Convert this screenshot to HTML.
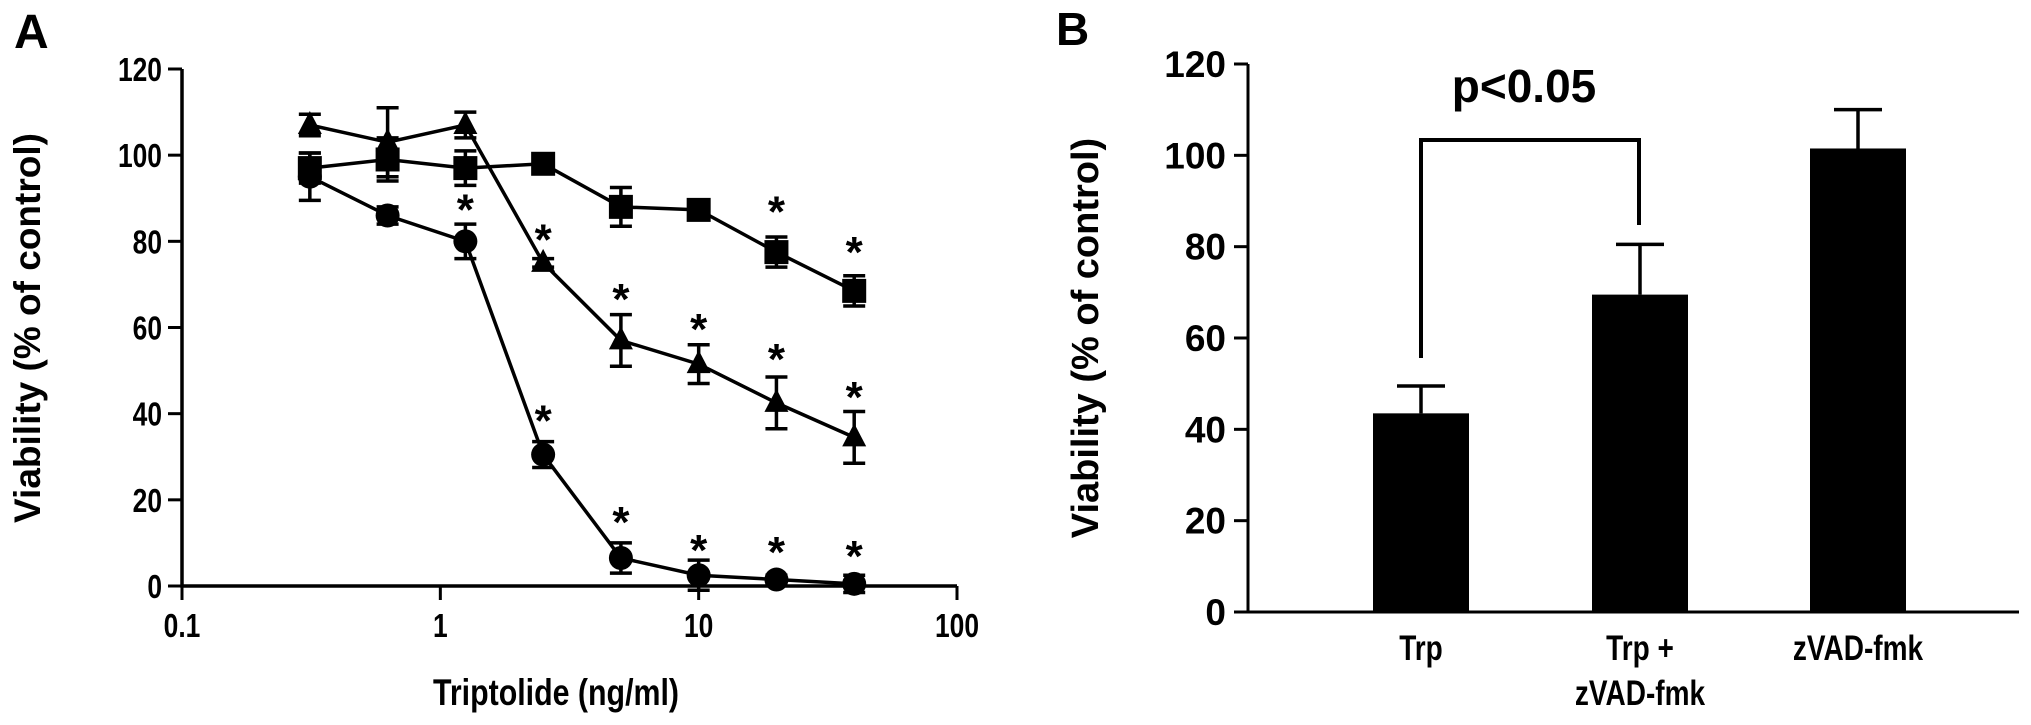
<!DOCTYPE html>
<html><head><meta charset="utf-8"><style>
html,body{margin:0;padding:0;background:#fff;}
svg{display:block;font-family:"Liberation Sans",Arial,sans-serif;font-weight:bold;}
</style></head><body>
<svg id="fig" width="2031" height="725" viewBox="0 0 2031 725" xmlns="http://www.w3.org/2000/svg"></svg>
<script>
// Panel A data
const doses = [0.3125, 0.625, 1.25, 2.5, 5, 10, 20, 40];
const squareVals = [97, 99, 97, 98, 88, 87.3, 77.5, 68.5];
const squareErr = [3.5, 5, 4, 2, 4.5, 1.5, 3.5, 3.5];
const triVals = [107, 103, 107, 75, 57, 51.5, 42.5, 34.5];
const triErr = [2.5, 8, 3, 1, 6, 4.5, 6, 6];
const circVals = [95, 86, 80, 30.5, 6.5, 2.5, 1.5, 0.5];
const circErr = [5.5, 2, 4, 3, 3.5, 3.5, 1, 2];
// stars: [dose, y value]
const starDoses = [1.25, 2.5, 2.5, 5, 5, 10, 10, 20, 20, 20, 40, 40, 40];
const starVals = [89.5, 82.5, 40.5, 68.7, 17, 61.7, 10.5, 89, 54.8, 10, 79.6, 46, 9];
const aYTicks = [0, 20, 40, 60, 80, 100, 120];
const aXTicks = [0.1, 1, 10, 100];
const aXTickLabels = ["0.1", "1", "10", "100"];
// Panel B data
const bCats = ["Trp", "Trp +|zVAD-fmk", "zVAD-fmk"];
const bVals = [43.5, 69.5, 101.5];
const bErr = [6, 11, 8.5];
const bYTicks = [0, 20, 40, 60, 80, 100, 120];

const NS = "http://www.w3.org/2000/svg";
const svg = document.getElementById("fig");
function mk(tag, attrs, parent) {
  const e = document.createElementNS(NS, tag);
  for (const k in attrs) e.setAttribute(k, attrs[k]);
  (parent || svg).appendChild(e);
  return e;
}
function txt(str, x, y, size, anchor, sx, parent, rot) {
  const t = mk("text", {"font-size": size, "text-anchor": anchor,
    transform: "translate(" + x + "," + y + ")" + (rot ? " rotate(" + rot + ")" : "") + " scale(" + sx + ",1)"}, parent);
  t.textContent = str;
  return t;
}

// ---------- Panel A ----------
const ax0 = 182, axR = 957, ay0 = 586, ayTop = 69;
const xA = d => ax0 + (Math.log10(d) + 1) * (axR - ax0) / 3;
const yA = v => ay0 - v * (ay0 - ayTop) / 120;
const gA = mk("g", {});


let l = mk("text", {x: 14, y: 48, "font-size": 48}, gA); l.textContent = "A";
 
const axA = mk("path", {d: "M" + ax0 + "," + ayTop + " V" + ay0 + " H" + axR, stroke: "#000", "stroke-width": 3.5, fill: "none"}, gA);
 
aYTicks.forEach(v => {
  mk("line", {x1: ax0 - 14, x2: ax0, y1: yA(v), y2: yA(v), stroke: "#000", "stroke-width": 3}, gA);
  const t = txt(String(v), 162, yA(v) + 12, 33, "end", 0.8, gA);
   
});
aXTicks.forEach((d, i) => {
  mk("line", {x1: xA(d), x2: xA(d), y1: ay0, y2: ay0 + 14, stroke: "#000", "stroke-width": 3}, gA);
  const t = txt(aXTickLabels[i], xA(d), 637, 33, "middle", 0.8, gA);
   
});
let at = txt("Triptolide (ng/ml)", 556, 705, 37, "middle", 0.82, gA);
 
let ayt = txt("Viability (% of control)", 40, 328, 37, "middle", 1, gA, -90);
 

function series(vals, errs, shape, name) {
  const g = mk("g", {}, gA);
  
  
  let d = "";
  vals.forEach((v, i) => { d += (i ? "L" : "M") + xA(doses[i]) + "," + yA(v); });
  mk("path", {d: d, stroke: "#000", "stroke-width": 3.5, fill: "none"}, g);
  vals.forEach((v, i) => {
    const x = xA(doses[i]), y = yA(v), e = errs[i];
    mk("path", {d: "M" + x + "," + yA(v + e) + "V" + yA(v - e) + "M" + (x - 11) + "," + yA(v + e) + "h22M" + (x - 11) + "," + yA(v - e) + "h22",
      stroke: "#000", "stroke-width": 3.5, fill: "none"}, g);
    let m;
    if (shape === "sq") m = mk("rect", {x: x - 12, y: y - 12, width: 24, height: 24, fill: "#000"}, g);
    else if (shape === "tri") m = mk("polygon", {points: x + "," + (y - 14) + " " + (x + 12) + "," + (y + 9) + " " + (x - 12) + "," + (y + 9), fill: "#000"}, g);
    else m = mk("circle", {cx: x, cy: y, r: 12, fill: "#000"}, g);
    
    
  });
}
series(squareVals, squareErr, "sq", "square-series");
series(triVals, triErr, "tri", "triangle-series");
series(circVals, circErr, "circ", "circle-series");
starDoses.forEach((d, i) => {
  const s = txt("*", xA(d), yA(starVals[i]) + 24, 44, "middle", 1, gA);
   
});

// ---------- Panel B ----------
const bx0 = 1248, bxR = 2019, by0 = 612, byTop = 64;
const yB = v => by0 - v * (by0 - byTop) / 120;
const bCenters = [1421, 1640, 1858];
const bw = 96;
const gB = mk("g", {});


l = mk("text", {x: 1056, y: 45, "font-size": 46}, gB); l.textContent = "B";
 
bVals.forEach((v, i) => {
  const c = bCenters[i];
  const r = mk("rect", {x: c - bw / 2, y: yB(v), width: bw, height: by0 - yB(v), fill: "#000"}, gB);
   
  mk("path", {d: "M" + c + "," + yB(v) + "V" + yB(v + bErr[i]) + "M" + (c - 24) + "," + yB(v + bErr[i]) + "h48", stroke: "#000", "stroke-width": 3.5, fill: "none"}, gB);
  const lines = bCats[i].split("|");
  lines.forEach((s, j) => {
    const t = txt(s, c, 660 + j * 45, 35, "middle", 0.8, gB);
     
  });
});
const axB = mk("path", {d: "M" + bx0 + "," + byTop + " V" + by0 + " H" + bxR, stroke: "#000", "stroke-width": 3, fill: "none"}, gB);
 
bYTicks.forEach(v => {
  mk("line", {x1: bx0 - 14, x2: bx0, y1: yB(v), y2: yB(v), stroke: "#000", "stroke-width": 3}, gB);
  const t = txt(String(v), 1226, yB(v) + 13, 37, "end", 1, gB);
   
});
let byt = txt("Viability (% of control)", 1098, 338, 38, "middle", 1, gB, -90);
 
const br = mk("path", {d: "M1421,358 V140 H1639 V225", stroke: "#000", "stroke-width": 4, fill: "none"}, gB);
 
const pv = txt("p<0.05", 1524, 102, 46, "middle", 1, gB);
 
</script>
</body></html>
